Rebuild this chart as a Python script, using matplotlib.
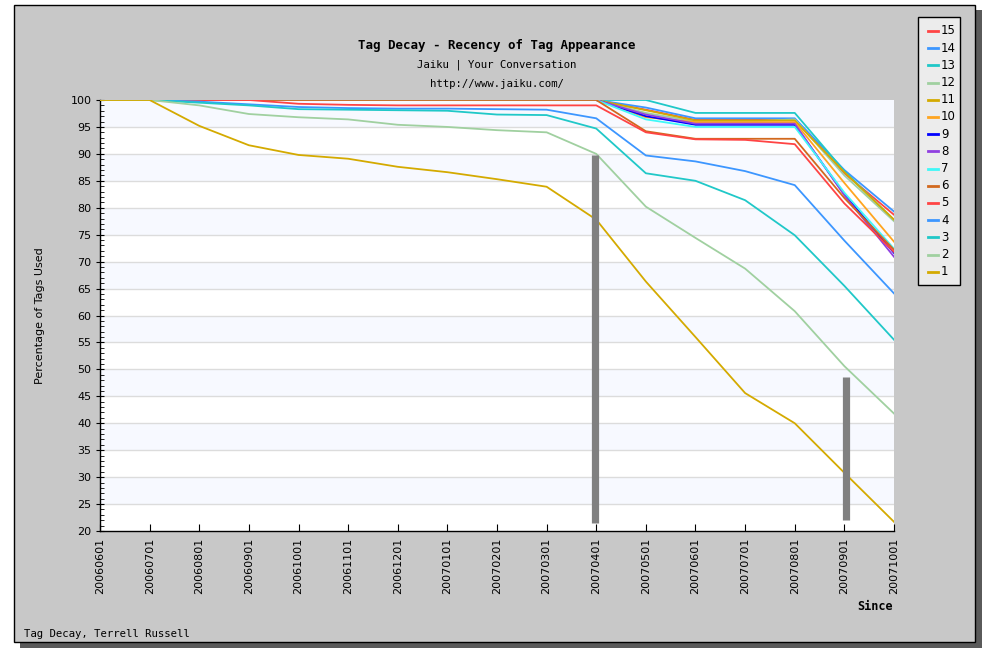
import matplotlib.pyplot as plt
from matplotlib.patches import Rectangle
from matplotlib.lines import Line2D

# month labels on the x axis
months = ["20060601", "20060701", "20060801", "20060901", "20061001", "20061101",
          "20061201", "20070101", "20070201", "20070301", "20070401", "20070501",
          "20070601", "20070701", "20070801", "20070901", "20071001"]

# percentage of tags still used, one list per tag group
s1 = [100, 100, 95.2, 91.6, 89.8, 89.1, 87.6, 86.6, 85.3, 83.9, 77.8, 66.3, 56.0, 45.6, 40.0, 30.8, 21.7]
s2 = [100, 100, 99.0, 97.4, 96.8, 96.4, 95.4, 95.0, 94.4, 94.0, 90.0, 80.2, 74.4, 68.7, 60.8, 50.6, 41.8]
s3 = [100, 100, 99.5, 99.0, 98.3, 98.2, 98.1, 98.0, 97.3, 97.2, 94.7, 86.4, 85.0, 81.4, 74.9, 65.5, 55.5]
s4 = [100, 100, 99.7, 99.2, 98.7, 98.5, 98.4, 98.4, 98.3, 98.2, 96.6, 89.7, 88.6, 86.8, 84.2, 73.9, 64.1]
s5 = [100, 100, 100, 100, 99.3, 99.1, 99.0, 99.0, 99.0, 99.0, 99.0, 94.0, 92.7, 92.6, 91.8, 80.8, 71.8]
s6 = [100, 100, 100, 100, 100, 100, 100, 100, 100, 100, 100, 94.2, 92.8, 92.8, 92.8, 81.8, 72.2]
s7 = [100, 100, 100, 100, 100, 100, 100, 100, 100, 100, 100, 96.4, 95.0, 95.0, 95.0, 82.8, 72.4]
s8 = [100, 100, 100, 100, 100, 100, 100, 100, 100, 100, 100, 97.3, 95.6, 95.6, 95.6, 82.3, 70.9]
s9 = [100, 100, 100, 100, 100, 100, 100, 100, 100, 100, 100, 97.0, 95.4, 95.4, 95.4, 82.5, 71.6]
s10 = [100, 100, 100, 100, 100, 100, 100, 100, 100, 100, 100, 96.8, 95.9, 95.9, 95.9, 84.6, 73.7]
s11 = [100, 100, 100, 100, 100, 100, 100, 100, 100, 100, 100, 98.1, 96.2, 96.2, 96.2, 86.6, 77.8]
s12 = [100, 100, 100, 100, 100, 100, 100, 100, 100, 100, 100, 97.6, 96.0, 96.0, 96.4, 86.0, 77.5]
s13 = [100, 100, 100, 100, 100, 100, 100, 100, 100, 100, 100, 100, 97.6, 97.6, 97.6, 86.8, 77.7]
s14 = [100, 100, 100, 100, 100, 100, 100, 100, 100, 100, 100, 98.6, 96.6, 96.6, 96.6, 87.0, 79.3]
s15 = [100, 100, 100, 100, 100, 100, 100, 100, 100, 100, 100, 98.2, 96.3, 96.3, 96.3, 86.4, 78.7]

series = [s1, s2, s3, s4, s5, s6, s7, s8, s9, s10, s11, s12, s13, s14, s15]
labels = [str(i) for i in range(1, 16)]
colors = ["#d4aa00", "#a0d0a0", "#20c8c8", "#3c96ff", "#ff4444", "#d2691e", "#40f8f8",
          "#9040e0", "#0000ff", "#ffa520", "#d4aa00", "#a0d0a0", "#20c8c8", "#3c96ff", "#ff4444"]

# grey marker bars: (month index, bottom, top)
bars = [(9.97, 21.4, 89.8), (15.03, 22.0, 48.5)]

W, H = 983, 649
fig = plt.figure(figsize=(W / 100, H / 100), dpi=100)
fig.patch.set_facecolor("white")

# grey panel with drop shadow
fig.add_artist(Rectangle((20 / W, 1 - 648 / H), 962 / W, 638 / H, transform=fig.transFigure,
                         facecolor="#5a5a5a", edgecolor="none", zorder=0))
fig.add_artist(Rectangle((14 / W, 1 - 642 / H), 961 / W, 637 / H, transform=fig.transFigure,
                         facecolor="#c8c8c8", edgecolor="black", lw=1, zorder=0))

ax = fig.add_axes([100 / W, 1 - 531 / H, 794 / W, 431 / H])
ax.set_xlim(0, len(months) - 1)
ax.set_ylim(20, 100)
ax.set_facecolor("white")

# alternating bands and grid
for lo in range(25, 100, 10):
    ax.axhspan(lo, lo + 5, color="#f7f9ff", zorder=0, lw=0)
for v in range(25, 100, 5):
    ax.axhline(v, color="#dcdcdc", lw=1, zorder=1)

x = list(range(len(months)))
for s, c in reversed(list(zip(series, colors))):
    ax.plot(x, s, color=c, lw=1.3, zorder=3, solid_joinstyle="round")

for bx, b0, b1 in bars:
    ax.plot([bx, bx], [b0, b1], color="#808080", lw=5.2, solid_capstyle="butt", zorder=4)

for side in ["top", "right"]:
    ax.spines[side].set_visible(False)
for side in ["left", "bottom"]:
    ax.spines[side].set_color("black")
    ax.spines[side].set_linewidth(1)

ax.set_yticks(range(20, 101, 5))
ax.set_yticks(range(20, 101, 1), minor=True)
ax.tick_params(axis="y", which="major", direction="inout", length=6, labelsize=8, pad=3)
ax.tick_params(axis="y", which="minor", direction="in", length=3)
ax.set_xticks(x)
ax.set_xticklabels(months, rotation=90, fontsize=8)
ax.tick_params(axis="x", direction="in", length=5, pad=5)

# titles and captions
mono = "DejaVu Sans Mono"
cx = (100 + 894) / 2 / W
fig.text(cx, 1 - 45 / H, "Tag Decay - Recency of Tag Appearance", ha="center", va="center",
         family=mono, fontweight="bold", fontsize=9)
fig.text(cx, 1 - 65 / H, "Jaiku | Your Conversation", ha="center", va="center",
         family=mono, fontsize=7.7)
fig.text(cx, 1 - 84 / H, "http://www.jaiku.com/", ha="center", va="center",
         family=mono, fontsize=7.7)
fig.text(40 / W, 1 - 316 / H, "Percentage of Tags Used", rotation=90, ha="center", va="center",
         fontsize=8)
fig.text(893 / W, 1 - 607 / H, "Since", ha="right", va="center", family=mono,
         fontweight="bold", fontsize=8.5)
fig.text(24 / W, 1 - 634 / H, "Tag Decay, Terrell Russell", ha="left", va="center",
         family=mono, fontsize=7.7)

# legend box, 15 on top
fig.add_artist(Rectangle((918 / W, 1 - 285 / H), 42 / W, 268 / H, transform=fig.transFigure,
                         facecolor="#ececec", edgecolor="black", lw=1, zorder=5))
for i, (lab, c) in enumerate(reversed(list(zip(labels, colors)))):
    yy = 1 - (31 + 17.2 * i) / H
    fig.add_artist(Line2D([928 / W, 938 / W], [yy, yy], transform=fig.transFigure,
                          color=c, lw=2, zorder=6))
    fig.text(941 / W, yy, lab, ha="left", va="center", fontsize=8.5, zorder=6)

fig.savefig("out.png", dpi=100)
